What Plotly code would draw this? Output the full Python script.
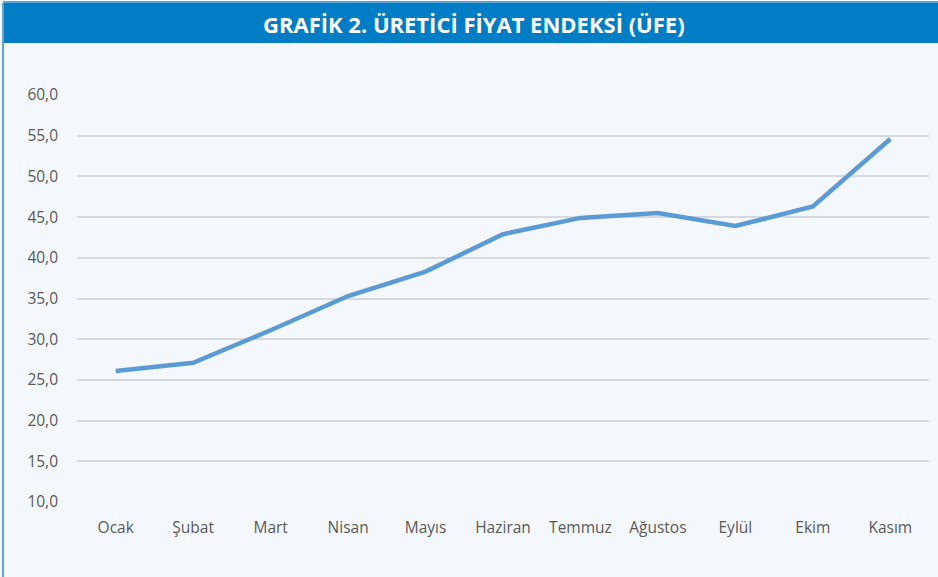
import plotly.graph_objects as go

months = ["Ocak", "Şubat", "Mart", "Nisan", "Mayıs", "Haziran",
          "Temmuz", "Ağustos", "Eylül", "Ekim", "Kasım"]
ufe = [26.1, 27.1, 31.1, 35.3, 38.3, 42.9, 44.9, 45.5, 43.9, 46.3, 54.6]
y_ticks = [10, 15, 20, 25, 30, 35, 40, 45, 50, 55, 60]

W, H = 938, 577
L, R, T, B = 77, 9, 95, 75
pw, ph = W - L - R, H - T - B


def px_x(px):
    return (px - L) / pw


def px_y(py):
    return (H - B - py) / ph


fig = go.Figure()

fig.add_trace(
    go.Scatter(
        x=months,
        y=ufe,
        mode="lines",
        line=dict(color="#5B9BD5", width=4.5),
        showlegend=False,
    )
)

# title bar and frame
fig.add_shape(type="rect", xref="paper", yref="paper",
              x0=px_x(3), x1=px_x(W + 5), y0=px_y(43), y1=px_y(3),
              fillcolor="#007DC5", line_width=0, layer="below")
fig.add_shape(type="line", xref="paper", yref="paper",
              x0=px_x(3), x1=px_x(3), y0=px_y(H + 5), y1=px_y(3),
              line=dict(color="#5DA5D3", width=2))
fig.add_shape(type="line", xref="paper", yref="paper",
              x0=px_x(3), x1=px_x(W + 5), y0=px_y(2), y1=px_y(2),
              line=dict(color="#5DA5D3", width=2))

fig.add_annotation(
    text="<b>GRAFİK 2. ÜRETİCİ FİYAT ENDEKSİ (ÜFE)</b>",
    xref="paper", yref="paper",
    x=px_x(474), y=px_y(24),
    xanchor="center", yanchor="middle",
    showarrow=False,
    font=dict(family="Open Sans", size=22, color="white"),
)

fig.update_layout(
    width=W,
    height=H,
    margin=dict(l=L, r=R, t=T, b=B),
    paper_bgcolor="#F4F8FC",
    plot_bgcolor="#F4F8FC",
    separators=",.",
    font=dict(family="Open Sans", size=15.5, color="#595959"),
)

fig.update_xaxes(
    range=[-0.5, len(months) - 0.5],
    showgrid=False,
    showline=False,
    ticks="",
    ticklabelstandoff=14,
)

fig.update_yaxes(
    range=[10, 60],
    tickvals=y_ticks,
    tickformat=".1f",
    showgrid=True,
    gridcolor="#D6D9DD",
    gridwidth=1.5,
    zeroline=False,
    showline=False,
    ticks="",
    ticklabelstandoff=18,
)

fig.write_html("out.html", config={"displayModeBar": False},
               post_script="document.body.style.margin='0';")
